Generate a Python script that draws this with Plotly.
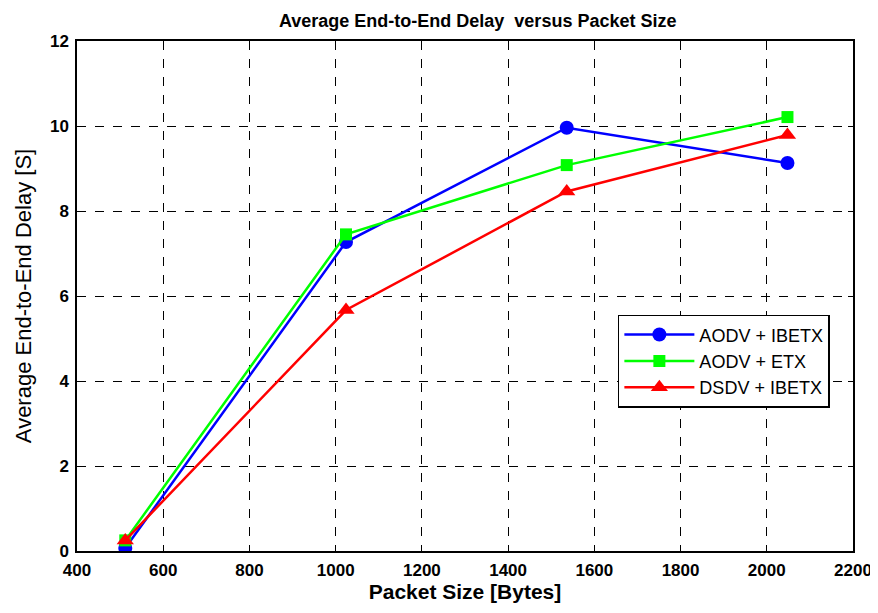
import plotly.graph_objects as go

packet_size = [512, 1024, 1536, 2048]
aodv_ibetx = [0.07, 7.27, 9.96, 9.13]
aodv_etx = [0.25, 7.45, 9.08, 10.21]
dsdv_ibetx = [0.25, 5.67, 8.46, 9.79]

x_ticks = [400, 600, 800, 1000, 1200, 1400, 1600, 1800, 2000, 2200]
y_ticks = [0, 2, 4, 6, 8, 10, 12]

FONT = "Liberation Sans Narrow, Arial Narrow, Liberation Sans, Arial"

fig = go.Figure()
series = [
    ("AODV + IBETX", aodv_ibetx, "#0000ff", "circle", 14),
    ("AODV + ETX", aodv_etx, "#00ff00", "square", 12),
    ("DSDV + IBETX", dsdv_ibetx, "#ff0000", "triangle-up", 15),
]
for name, ys, color, sym, size in series:
    fig.add_trace(go.Scatter(
        x=packet_size, y=ys, name=name, mode="lines+markers",
        line=dict(color=color, width=2.5),
        marker=dict(symbol=sym, size=size, color=color),
    ))

axis_common = dict(
    showline=True, linecolor="black", linewidth=1.5, mirror="ticks",
    ticks="inside", ticklen=5, tickcolor="black",
    showgrid=True, gridcolor="black", griddash="dash", gridwidth=1,
    zeroline=False, automargin=False,
    tickfont=dict(family=FONT, size=17, color="black", weight="bold"),
)

fig.update_xaxes(range=[400, 2200], tickvals=x_ticks, ticklabelstandoff=3,
                 title=dict(text="Packet Size [Bytes]", standoff=0,
                            font=dict(family=FONT, size=21, color="black", weight="bold")),
                 **axis_common)
fig.update_yaxes(range=[0, 12], tickvals=y_ticks, ticklabelstandoff=3,
                 title=dict(text="Average End-to-End Delay [S]", standoff=12,
                            font=dict(family=FONT, size=22, color="black")),
                 **axis_common)

fig.update_layout(
    width=878, height=613,
    margin=dict(l=69, r=33, t=33, b=70),
    paper_bgcolor="white", plot_bgcolor="white",
    title=dict(text="Average End-to-End Delay  versus Packet Size",
               x=0.535, xanchor="center", y=0.99, yanchor="top",
               font=dict(family=FONT, size=18, color="black", weight="bold")),
    legend=dict(x=0.697, y=0.463, xanchor="left", yanchor="top",
                bgcolor="white", bordercolor="black", borderwidth=1.5,
                font=dict(family="Liberation Sans, Arial", size=18, color="black"),
                itemwidth=70, tracegroupgap=3),
    showlegend=True,
)

fig.write_html("out.html")
